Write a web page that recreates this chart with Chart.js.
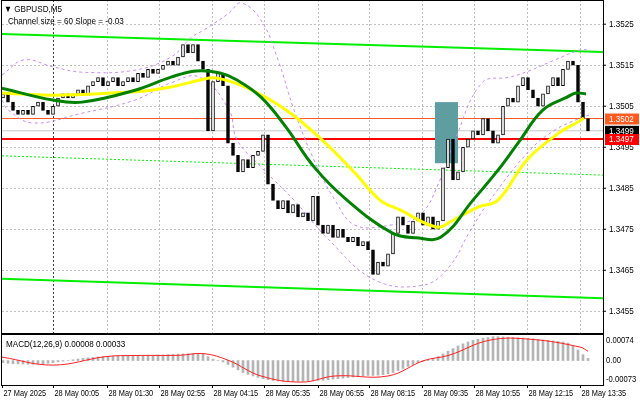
<!DOCTYPE html>
<html><head><meta charset="utf-8">
<script src="https://cdn.jsdelivr.net/npm/chart.js@4"></script>
<style>
body{margin:0;background:#fff;width:640px;height:401px;overflow:hidden;position:relative;font-family:"Liberation Sans",Arial,sans-serif}
canvas{position:absolute;left:0}
</style></head><body>
<canvas id="main" style="top:0" width="640" height="334"></canvas>
<canvas id="macd" style="top:334px" width="640" height="67"></canvas>
<script>
// ---- data ----
const closes=[1.3508,1.3506,1.3504,1.3503,1.3504,1.3503,1.3505,1.3506,1.3504,1.3503,
1.3505,1.3507,1.3508,1.3507,1.3508,1.3509,1.3508,1.3510,1.3511,1.3512,
1.3510,1.3511,1.3512,1.3510,1.3511,1.3512,1.3511,1.3513,1.3512,1.3514,
1.3513,1.3514,1.3515,1.3516,1.3515,1.3517,1.3520,1.3518,1.3520,1.3516,
1.3514,1.3499,1.3511,1.3513,1.3510,1.3496,1.3493,1.3489,1.3492,1.3490,
1.3493,1.3494,1.3498,1.3486,1.3482,1.3480,1.3482,1.3479,1.3481,1.3478,
1.3479,1.3477,1.3483,1.3476,1.3474,1.3476,1.3473,1.3475,1.3473,1.3472,
1.3473,1.3471,1.3472,1.3470,1.3464,1.3467,1.3466,1.3469,1.3474,1.3478,
1.3476,1.3474,1.3477,1.3479,1.3476,1.3478,1.3475,1.3477,1.3490,1.3497,
1.3487,1.3489,1.3495,1.3497,1.3499,1.3498,1.3502,1.3499,1.3496,1.3498,
1.3505,1.3507,1.3506,1.3510,1.3512,1.3509,1.3507,1.3505,1.3508,1.3510,
1.3512,1.3510,1.3514,1.3516,1.3515,1.3506,1.3502,1.3499];
const firstOpen=1.3507;
const maGreen=[[-0.2,1.35094],[10,1.35065],[15.8,1.35060],[26.4,1.35089],[33.6,1.35121],[38.6,1.35136],[43.4,1.35131],[46.8,1.35114],[51.6,1.35072],[56.6,1.34999],[62.2,1.34902],[68.8,1.34821],[77.8,1.34741],[82.6,1.34729],[87.6,1.34731],[94,1.34821],[99,1.34894],[103,1.34960],[108,1.35041],[112.8,1.35072],[114.6,1.35082],[116.6,1.35080]];
const maYellow=[[-0.2,1.35082],[10,1.35077],[26.4,1.35085],[33.6,1.35097],[39.4,1.35114],[42.6,1.35119],[48.4,1.35097],[56.6,1.35041],[63.8,1.34968],[70.4,1.34887],[75.4,1.34821],[79.4,1.34797],[86.8,1.34755],[90,1.34772],[95,1.34804],[99,1.34821],[104.8,1.34919],[111.2,1.34985],[114.6,1.35009],[116.2,1.35021]];
const bandUp=[[-0.2,1.35126],[4.2,1.35163],[10,1.35146],[15.8,1.35133],[26.4,1.35138],[33.6,1.35170],[37.8,1.35219],[40.2,1.35236],[45.2,1.35277],[47.6,1.35302],[51.6,1.35260],[55,1.35163],[58.2,1.35041],[62.2,1.34919],[66.4,1.34821],[70.4,1.34760],[77.4,1.34760],[83.4,1.34785],[87.4,1.34870],[90.4,1.34968],[95.8,1.35107],[101.4,1.35121],[105.6,1.35138],[110.4,1.35163],[115.4,1.35187],[117.4,1.35187]];
const bandDn=[[-0.2,1.35065],[1,1.35041],[6,1.35009],[15.8,1.35033],[26.4,1.35065],[33.6,1.35107],[39.4,1.35121],[45.2,1.35041],[46.8,1.34968],[51.6,1.34902],[58.2,1.34821],[64.8,1.34729],[74.4,1.34626],[84.2,1.34614],[89.2,1.34658],[93.2,1.34741],[97.4,1.34821],[105.4,1.34943],[110.4,1.34992],[115.4,1.35021],[117.4,1.35029]];
const chanTop=[[-0.2,1.35226],[120,1.35182]];
const chanMid=[[-0.2,1.34929],[120,1.34882]];
const chanBot=[[-0.2,1.34629],[120,1.34582]];
const levels=[{v:1.3502,c:'#ff5a1f',w:1},{v:1.3499,c:'#c8c8c8',w:1},{v:1.3497,c:'#ff0000',w:2}];
const priceTags=[{v:1.3502,t:'1.3502',bg:'#ff5a1f'},{v:1.3499,t:'1.3499',bg:'#000000'},{v:1.3497,t:'1.3497',bg:'#ff0000'}];
const boxK=[86.4,91];
const boxP=[1.3506,1.34911];
const priceTicks=[1.3525,1.3515,1.3505,1.3495,1.3485,1.3475,1.3465,1.3455];
const timeTickK=[-0.2,10,20.8,31.2,41.8,52.2,63,73.2,83.8,94.2,104.8,115.4];
const timeLabels=['27 May 2025','28 May 00:05','28 May 01:30','28 May 02:55','28 May 04:15','28 May 05:35','28 May 06:55','28 May 08:15','28 May 09:35','28 May 10:55','28 May 12:15','28 May 13:35'];
const macdHist5=[-8,-10,-12,-12,-13,-14,-14,-13,-12,-10,-8,
-5,-2,0,3,6,8,10,12,14,15,16,
16,17,17,18,18,19,19,20,20,21,21,22,23,24,25,26,27,27,25,
15,5,0,-5,-15,
-25,-35,-45,-52,-58,-63,-68,-72,-75,-77,-78,
-79,-79,-78,-78,-77,-76,-75,
-74,-72,-70,-68,-66,-64,-62,-60,-58,-56,-56,-55,-53,-50,-45,
-38,-30,-22,-15,-8,-3,2,
8,15,25,35,45,55,63,70,76,80,84,87,90,
90,89,88,87,86,85,84,82,80,78,76,74,72,70,66,
55,40,22,8];
const macdSignal5=[[-0.2,13],[10,-17],[20.6,15],[26.4,19],[35.4,20],[40.2,26],[45.2,0],[51.6,-58],[59.8,-81],[66.4,-58],[77,-58],[84.2,0],[89.2,20],[97.4,77],[105.6,80],[115.4,51],[117,35]];
const macdTicks=[{v:0.00074,t:'0.00074'},{v:0,t:'0.00'},{v:-0.00073,t:'-0.00073'}];

const XMIN=-0.2,XMAX=120;
const FONT='9px "Liberation Sans", Arial, sans-serif';
const pts=a=>a.map(p=>({x:p[0],y:p[1]}));
const candles=closes.map((c,i)=>({x:i,y:[i?closes[i-1]:firstOpen,c]}));
function narrowText(ctx,t,x,y,s){ctx.save();ctx.translate(x,y);ctx.scale(s,1);ctx.fillText(t,0,0);ctx.restore();}

const mainPlugin={
 id:'mainDeco',
 beforeDatasetsDraw(ch){
  const {ctx,chartArea:a,scales:{x,y}}=ch;
  ctx.save();
  ctx.strokeStyle='#c0c0c0';ctx.lineWidth=1;ctx.setLineDash([2,2]);
  priceTicks.forEach(v=>{const py=Math.round(y.getPixelForValue(v))+0.5;ctx.beginPath();ctx.moveTo(a.left,py);ctx.lineTo(a.right,py);ctx.stroke();});
  timeTickK.slice(1).forEach((k,i)=>{const px=Math.round(x.getPixelForValue(k))+0.5;ctx.strokeStyle=i==0?'#404040':'#c0c0c0';ctx.beginPath();ctx.moveTo(px,a.top);ctx.lineTo(px,a.bottom);ctx.stroke();});
  ctx.setLineDash([]);
  levels.forEach(l=>{const py=y.getPixelForValue(l.v);ctx.strokeStyle=l.c;ctx.lineWidth=l.w;ctx.beginPath();ctx.moveTo(a.left,py);ctx.lineTo(a.right,py);ctx.stroke();});
  const bx0=x.getPixelForValue(boxK[0]),bx1=x.getPixelForValue(boxK[1]),by0=y.getPixelForValue(boxP[0]),by1=y.getPixelForValue(boxP[1]);
  ctx.fillStyle='#5f9ea0';ctx.fillRect(bx0,by0,bx1-bx0,by1-by0);
  ctx.restore();
 },
 afterDraw(ch){
  const {ctx,chartArea:a,scales:{y}}=ch;
  ctx.save();
  ctx.strokeStyle='#000';ctx.lineWidth=1;
  ctx.strokeRect(a.left-0.5,a.top+0.5,a.right-a.left+1,a.bottom-a.top);
  ctx.font=FONT;ctx.fillStyle='#000';ctx.textBaseline='middle';ctx.textAlign='left';
  priceTicks.forEach(v=>{const py=y.getPixelForValue(v);ctx.beginPath();ctx.moveTo(a.right,py);ctx.lineTo(a.right+3,py);ctx.stroke();narrowText(ctx,v.toFixed(4),a.right+6,py,0.9);});
  priceTags.forEach(p=>{const py=y.getPixelForValue(p.v);ctx.fillStyle=p.bg;ctx.fillRect(a.right+2,py-5,34,11);ctx.fillStyle='#fff';narrowText(ctx,p.t,a.right+6,py+0.5,0.9);});
  ctx.fillStyle='#000';ctx.textBaseline='alphabetic';
  narrowText(ctx,'▼ GBPUSD,M5',4,12,0.9);
  narrowText(ctx,'Channel size = 60 Slope = -0.03',8,24,0.9);
  ctx.restore();
 }
};

new Chart(document.getElementById('main'),{
 type:'bar',
 data:{datasets:[
  {type:'line',data:pts(chanTop),borderColor:'#00ee00',borderWidth:2,pointRadius:0,order:5},
  {type:'line',data:pts(chanMid),borderColor:'#00ee00',borderWidth:1,borderDash:[2,2],pointRadius:0,order:5},
  {type:'line',data:pts(chanBot),borderColor:'#00ee00',borderWidth:2,pointRadius:0,order:5},
  {type:'line',data:pts(bandUp),borderColor:'#c88cf0',borderWidth:1,borderDash:[3,3],pointRadius:0,tension:0.4,order:4},
  {type:'line',data:pts(bandDn),borderColor:'#c88cf0',borderWidth:1,borderDash:[3,3],pointRadius:0,tension:0.4,order:4},
  {type:'bar',data:candles,barThickness:3,
   backgroundColor:c=>{const d=c.raw;return d&&d.y[1]>=d.y[0]?'#ffffff':'#000000';},
   borderColor:'#000',borderWidth:1,borderSkipped:false,order:3},
  {type:'line',data:pts(maYellow),borderColor:'#ffff00',borderWidth:3,pointRadius:0,tension:0.4,order:1},
  {type:'line',data:pts(maGreen),borderColor:'#008000',borderWidth:3,pointRadius:0,tension:0.4,order:0}
 ]},
 options:{animation:false,responsive:false,events:[],
  layout:{padding:{left:2,right:37,top:0,bottom:1}},
  plugins:{legend:{display:false},tooltip:{enabled:false}},
  scales:{x:{type:'linear',min:XMIN,max:XMAX,offset:false,display:false},
          y:{min:1.34497,max:1.35309,display:false}}},
 plugins:[mainPlugin]
});

const macdPlugin={
 id:'macdDeco',
 afterDraw(ch){
  const {ctx,chartArea:a,scales:{x,y}}=ch;
  ctx.save();
  ctx.strokeStyle='#000';ctx.lineWidth=1;
  ctx.strokeRect(a.left-0.5,a.top+0.5,a.right-a.left+1,a.bottom-a.top);
  ctx.font=FONT;ctx.fillStyle='#000';ctx.textAlign='left';ctx.textBaseline='middle';
  macdTicks.forEach(t=>{const py=y.getPixelForValue(t.v);narrowText(ctx,t.t,a.right+3,py,0.85);});
  ctx.textBaseline='alphabetic';
  narrowText(ctx,'MACD(12,26,9) 0.00008 0.00033',6,13,0.9);
  ctx.textBaseline='top';
  timeTickK.forEach((k,i)=>{const px=Math.round(x.getPixelForValue(k))+0.5;
   ctx.beginPath();ctx.moveTo(px,a.bottom);ctx.lineTo(px,a.bottom+3);ctx.stroke();
   narrowText(ctx,timeLabels[i],px+1,a.bottom+4,0.82);});
  ctx.restore();
 }
};

new Chart(document.getElementById('macd'),{
 type:'bar',
 data:{datasets:[
  {type:'line',data:macdSignal5.map(p=>({x:p[0],y:p[1]*1e-5})),borderColor:'#ff2020',borderWidth:1,pointRadius:0,tension:0.4,order:0},
  {type:'bar',data:macdHist5.map((v,i)=>({x:i,y:v*1e-5})),backgroundColor:'#b4b4b4',barThickness:2,order:1}
 ]},
 options:{animation:false,responsive:false,events:[],
  layout:{padding:{left:2,right:37,top:0,bottom:16}},
  plugins:{legend:{display:false},tooltip:{enabled:false}},
  scales:{x:{type:'linear',min:XMIN,max:XMAX,offset:false,display:false},
          y:{min:-0.00092,max:0.00100,display:false}}},
 plugins:[macdPlugin]
});
</script></body></html>
